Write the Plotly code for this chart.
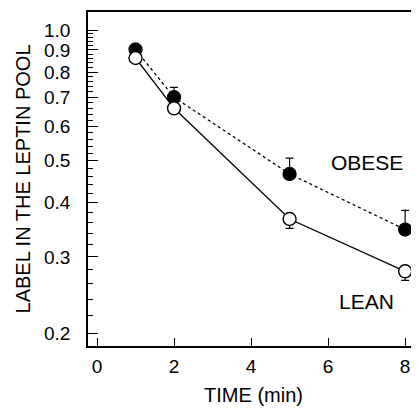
import plotly.graph_objects as go
import numpy as np

time = [1, 2, 5, 8]
obese = [0.902, 0.700, 0.466, 0.347]
obese_err_up = [0.0, 0.038, 0.041, 0.037]
lean = [0.862, 0.660, 0.367, 0.278]
lean_err_down = [0.0, 0.0, 0.018, 0.013]

y_major = [0.2, 0.3, 0.4, 0.5, 0.6, 0.7, 0.8, 0.9, 1.0]
y_major_text = ["0.2", "0.3", "0.4", "0.5", "0.6", "0.7", "0.8", "0.9", "1.0"]
y_minor = [round(v, 2) for v in np.arange(0.22, 1.0, 0.02) if round(v, 2) not in (0.3, 0.4, 0.5, 0.6, 0.7, 0.8, 0.9)]
x_major = [0, 2, 4, 6, 8]

FONT = "Liberation Sans"

fig = go.Figure()
fig.add_trace(go.Scatter(
    x=time, y=obese, mode="lines+markers",
    line=dict(color="black", width=1.3, dash="dot"),
    marker=dict(symbol="circle", size=13, color="black", line=dict(color="black", width=1.3)),
    error_y=dict(type="data", symmetric=False, array=obese_err_up, arrayminus=[0]*4,
                 color="black", thickness=1.2, width=4),
    showlegend=False,
))
fig.add_trace(go.Scatter(
    x=time, y=lean, mode="lines+markers",
    line=dict(color="black", width=1.3),
    marker=dict(symbol="circle", size=13, color="white", line=dict(color="black", width=1.4)),
    error_y=dict(type="data", symmetric=False, array=[0]*4, arrayminus=lean_err_down,
                 color="black", thickness=1.2, width=4),
    showlegend=False,
))

fig.add_annotation(x=7, y=np.log10(0.494), text="OBESE", showarrow=False,
                   font=dict(family=FONT, size=21, color="black"))
fig.add_annotation(x=7, y=np.log10(0.2375), text="LEAN", showarrow=False,
                   font=dict(family=FONT, size=21, color="black"))

fig.update_layout(
    width=411, height=401,
    margin=dict(l=80, r=0, t=4, b=63),
    paper_bgcolor="white", plot_bgcolor="white",
    font=dict(family=FONT, size=20, color="black"),
    xaxis=dict(
        range=[-0.234, 8.36], tickvals=x_major, ticktext=[str(v) for v in x_major],
        ticks="inside", ticklen=8, tickwidth=1.2, tickcolor="black",
        showline=True, linecolor="black", linewidth=1.5, mirror=True,
        showgrid=False, zeroline=False,
        ticklabelstandoff=2,
        title=dict(text="TIME (min)", font=dict(family=FONT, size=20), standoff=12),
        tickfont=dict(family=FONT, size=19),
    ),
    yaxis=dict(
        type="log", range=[-0.728, 0.0415],
        tickvals=y_major, ticktext=y_major_text,
        ticks="inside", ticklen=10, tickwidth=1.2, tickcolor="black",
        minor=dict(tickvals=y_minor, ticks="inside", ticklen=5, tickwidth=1, tickcolor="black", showgrid=False),
        showline=True, linecolor="black", linewidth=1.5, mirror=False,
        showgrid=False, zeroline=False,
        ticklabelstandoff=12,
        title=dict(text="LABEL IN THE LEPTIN POOL", font=dict(family=FONT, size=20), standoff=8),
        tickfont=dict(family=FONT, size=19),
    ),
)

fig.write_html("out.html")
